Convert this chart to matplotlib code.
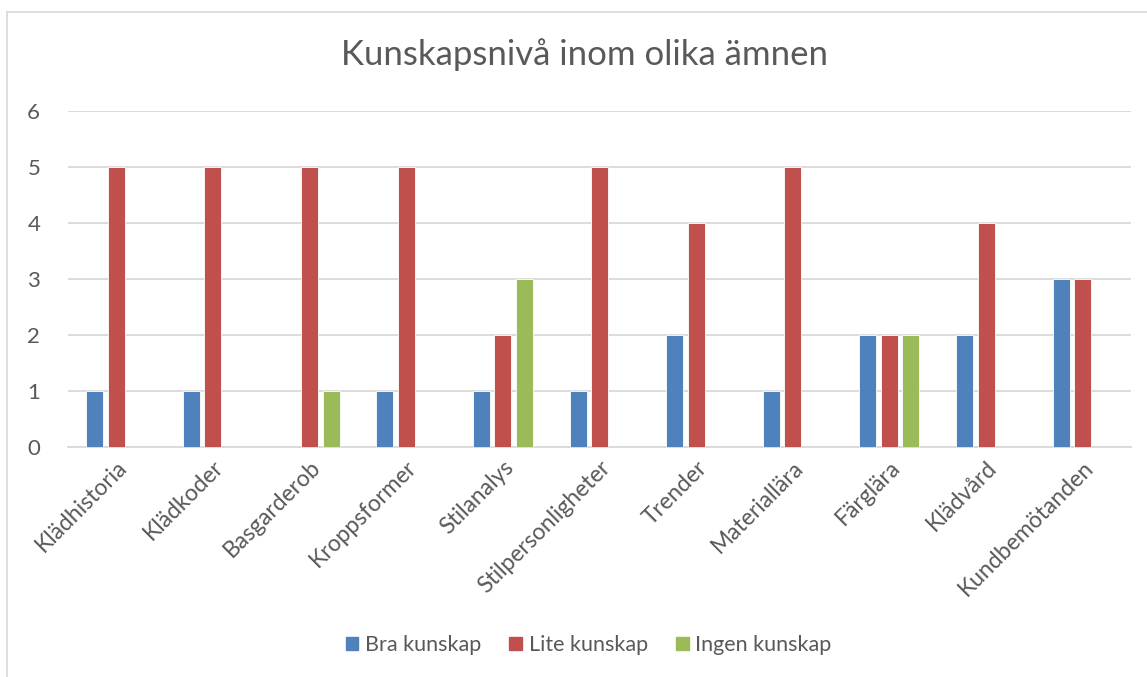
import numpy as np
import matplotlib.pyplot as plt
from matplotlib.lines import Line2D

# Data
categories = ['Klädhistoria', 'Klädkoder', 'Basgarderob', 'Kroppsformer', 'Stilanalys',
              'Stilpersonligheter', 'Trender', 'Materiallära', 'Färglära', 'Klädvård',
              'Kundbemötanden']
bra = [1, 1, 0, 1, 1, 1, 2, 1, 2, 2, 3]
lite = [5, 5, 5, 5, 2, 5, 4, 5, 2, 4, 3]
ingen = [0, 0, 1, 0, 3, 0, 0, 0, 2, 0, 0]
series_names = ['Bra kunskap', 'Lite kunskap', 'Ingen kunskap']
colors = ['#4F81BD', '#C0504D', '#9BBB59']

plt.rcParams['font.family'] = ['Lato', 'DejaVu Sans']
text_col = '#595959'
grid_col = '#D9D9D9'

fig = plt.figure(figsize=(11.47, 6.77), dpi=100)
ax = fig.add_axes([68 / 1147, 1 - 447 / 677, (1131 - 68) / 1147, (447 - 111) / 677])

x = np.arange(len(categories))
w = 0.176
step = 0.222
for i, (vals, name, c) in enumerate(zip([bra, lite, ingen], series_names, colors)):
    ax.bar(x + (i - 1) * step, vals, width=w, color=c, edgecolor='white',
           linewidth=0.6, label=name, zorder=3)

ax.set_xlim(-0.5, len(categories) - 0.5)
ax.set_ylim(0, 6)
ax.set_yticks(range(7))
ax.yaxis.grid(True, color=grid_col, linewidth=1.3, zorder=0)
ax.set_axisbelow(True)
for s in ['top', 'right', 'left']:
    ax.spines[s].set_visible(False)
ax.spines['bottom'].set_color(grid_col)
ax.spines['bottom'].set_linewidth(1.3)
ax.tick_params(axis='both', length=0, colors=text_col, labelsize=16)
ax.tick_params(axis='y', pad=20)
ax.set_xticks(x)
ax.set_xticklabels(categories, rotation=45, ha='right', va='top',
                   rotation_mode='anchor', color=text_col, fontsize=16.5)
ax.tick_params(axis='x', pad=7)

fig.text(0.51, 1 - 55 / 677, 'Kunskapsnivå inom olika ämnen', ha='center', va='center',
         fontsize=25, color=text_col)

handles = [plt.Rectangle((0, 0), 1, 1, color=c) for c in colors]
fig.legend(handles, series_names, loc='center', bbox_to_anchor=(0.513, 1 - 645 / 677),
           ncol=3, frameon=False, fontsize=15.5, handlelength=0.6, handleheight=0.6,
           handletextpad=0.3, columnspacing=1.3, labelcolor=text_col)

# chart area border (left and top visible)
fig.add_artist(Line2D([7 / 1147, 7 / 1147], [0, 1 - 12 / 677], color=grid_col, lw=1.2))
fig.add_artist(Line2D([7 / 1147, 1], [1 - 12 / 677, 1 - 12 / 677], color=grid_col, lw=1.2))

fig.savefig('out.png', dpi=100)
